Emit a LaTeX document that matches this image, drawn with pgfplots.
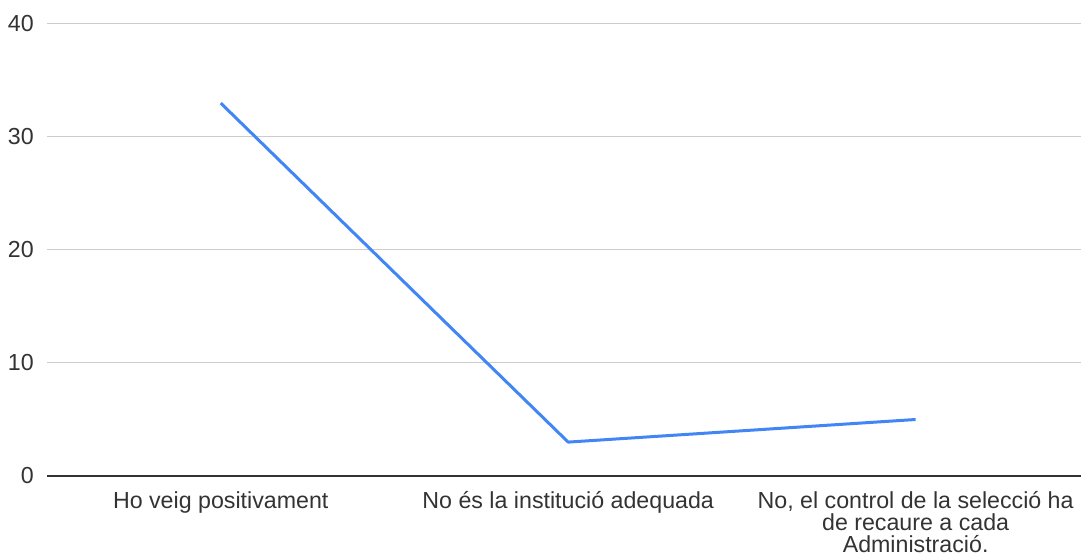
\documentclass[border=0pt]{standalone}
\usepackage{fontspec}
\setmainfont{Liberation Sans}
\usepackage{pgfplots}
\pgfplotsset{compat=1.18}
\definecolor{seriesblue}{HTML}{4285F4}
\definecolor{labelgray}{HTML}{333333}
\definecolor{gridgray}{HTML}{CCCCCC}
\definecolor{basegray}{HTML}{333333}
\begin{document}
\begin{tikzpicture}
\begin{axis}[
  at={(47bp,77bp)}, anchor=south west,
  scale only axis,
  width=1034bp, height=452bp,
  xmin=-0.5, xmax=2.476,
  ymin=0, ymax=40,
  axis line style={draw=none},
  major tick length=0pt,
  ytick={0,10,20,30,40},
  ymajorgrids,
  grid style={gridgray, line width=1bp},
  extra y ticks={0},
  extra y tick labels={},
  extra y tick style={grid style={basegray, line width=1.6bp}},
  xtick={0,1,2},
  xticklabels={{Ho veig positivament},{No és la institució adequada},{No, el control de la selecció ha\\de recaure a cada\\Administració.}},
  /pgf/number format/assume math mode=true,
  every tick label/.append style={font=\fontsize{23.2bp}{22bp}\selectfont, text=labelgray},
  yticklabel style={anchor=east, inner sep=0pt, xshift=-13bp},
  xticklabel style={anchor=north, inner sep=0pt, align=center, yshift=-15bp},
  clip=false,
]
\addplot[seriesblue, line width=3bp, line join=round] coordinates {(0,33) (1,3) (2,5)};
\end{axis}
\pgfresetboundingbox
\useasboundingbox (0,0) rectangle (1081bp,553bp);
\end{tikzpicture}
\end{document}
